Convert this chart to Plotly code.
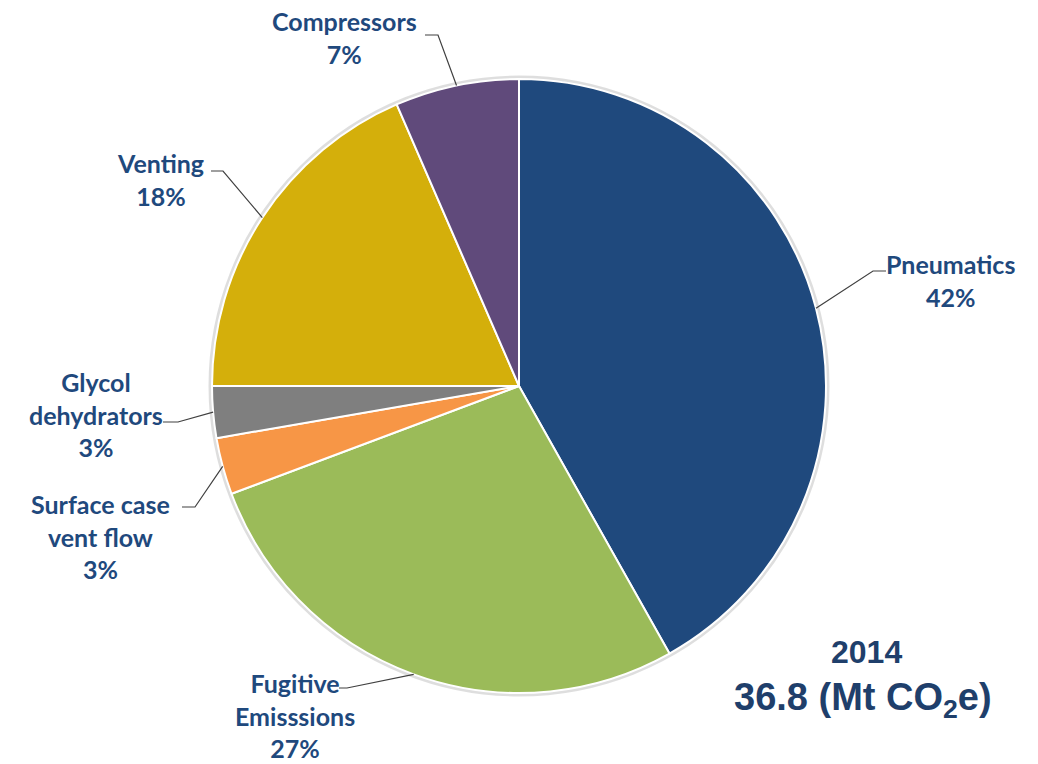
import math
import plotly.graph_objects as go

# ---- data ----
categories = ["Pneumatics", "Fugitive Emisssions", "Surface case vent flow",
              "Glycol dehydrators", "Venting", "Compressors"]
label_text = ["Pneumatics", "Fugitive<br>Emisssions", "Surface case<br>vent flow",
              "Glycol<br>dehydrators", "Venting", "Compressors"]
values_mt = [15.4, 10.1, 1.1, 1.0, 6.8, 2.4]
colors = ["#1F497D", "#9BBB59", "#F79646", "#7F7F7F", "#D4AF0B", "#604A7B"]
year = "2014"
total_text = "36.8 (Mt CO<sub>2</sub>e)"

# ---- layout constants ----
W, H = 1038, 764
cx, cy, R = 519, 386, 307
TXT = "#1F497D"
LINE = "#404040"
FONT = "Lato"

# label placement (pixels): elbow point, line end, text center
label_pos = {
    "Pneumatics": dict(elbow=(873, 271), end=(886, 271), text=(950, 280)),
    "Fugitive Emisssions": dict(elbow=(347, 688), end=(339, 688), text=(295, 715)),
    "Surface case vent flow": dict(elbow=(195, 507), end=(182, 507), text=(100, 536)),
    "Glycol dehydrators": dict(elbow=(178, 422), end=(163, 422), text=(96, 414)),
    "Venting": dict(elbow=(223, 171), end=(211, 171), text=(160, 180)),
    "Compressors": dict(elbow=(438, 35), end=(425, 35), text=(344, 38)),
}

def px(x):
    return x / W

def py(y):
    return 1 - y / H

total = sum(values_mt)
pcts = [round(100 * v / total) for v in values_mt]

fig = go.Figure()
fig.add_trace(go.Pie(
    labels=categories,
    values=values_mt,
    sort=False,
    direction="clockwise",
    rotation=0,
    textinfo="none",
    hoverinfo="label+percent",
    marker=dict(colors=colors, line=dict(color="white", width=2)),
    domain=dict(x=[px(cx - R), px(cx + R)], y=[py(cy + R), py(cy - R)]),
    showlegend=False,
))

shapes = [dict(type="circle", xref="paper", yref="paper",
               x0=px(cx - R - 1.5), x1=px(cx + R + 1.5),
               y0=py(cy + R + 1.5), y1=py(cy - R - 1.5),
               line=dict(color="rgba(0,0,0,0.13)", width=4), layer="below")]
annotations = []
cum = 0.0
for cat, lt, v, p in zip(categories, label_text, values_mt, pcts):
    mid = (cum + v / 2) / total * 2 * math.pi
    cum += v
    ex = cx + R * math.sin(mid)
    ey = cy - R * math.cos(mid)
    pos = label_pos[cat]
    (bx, by), (fx, fy), (tx, ty) = pos["elbow"], pos["end"], pos["text"]
    shapes.append(dict(
        type="path", xref="paper", yref="paper",
        path=f"M {px(ex)},{py(ey)} L {px(bx)},{py(by)} L {px(fx)},{py(fy)}",
        line=dict(color=LINE, width=1.2),
    ))
    annotations.append(dict(
        x=px(tx), y=py(ty), xref="paper", yref="paper",
        text=f"<b>{lt}<br>{p}%</b>", showarrow=False,
        xanchor="center", yanchor="middle", align="center",
        font=dict(family=FONT, size=25, color=TXT),
    ))

annotations.append(dict(
    x=px(866), y=py(652), xref="paper", yref="paper", text=f"<b>{year}</b>",
    showarrow=False, xanchor="center", yanchor="middle",
    font=dict(family="Liberation Sans, Arial", size=32, color="#1F3F6B"),
))
annotations.append(dict(
    x=px(863), y=py(700), xref="paper", yref="paper", text=f"<b>{total_text}</b>",
    showarrow=False, xanchor="center", yanchor="middle",
    font=dict(family="Liberation Sans, Arial", size=38, color="#1F3F6B"),
))

fig.update_layout(
    width=W, height=H,
    margin=dict(l=0, r=0, t=0, b=0),
    paper_bgcolor="white", plot_bgcolor="white",
    shapes=shapes, annotations=annotations,
)
fig.write_html("out.html")
